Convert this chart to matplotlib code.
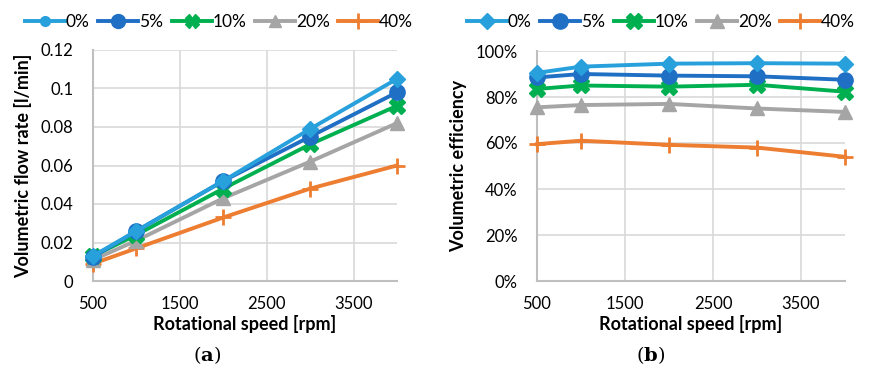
import numpy as np
import matplotlib.pyplot as plt
from matplotlib.lines import Line2D
from matplotlib.ticker import FuncFormatter

plt.rcParams['font.family'] = ['Lato', 'DejaVu Sans']
plt.rcParams['mathtext.fontset'] = 'dejavuserif'

speed = [500, 1000, 2000, 3000, 4000]
series = ['0%', '5%', '10%', '20%', '40%']

# flow rate [l/min]
flow_0 = [0.013, 0.026, 0.052, 0.079, 0.105]
flow_5 = [0.0125, 0.026, 0.052, 0.075, 0.098]
flow_10 = [0.013, 0.024, 0.048, 0.071, 0.091]
flow_20 = [0.011, 0.021, 0.043, 0.062, 0.082]
flow_40 = [0.009, 0.017, 0.033, 0.048, 0.060]

# volumetric efficiency [%]
eff_0 = [90.5, 93.2, 94.5, 94.7, 94.5]
eff_5 = [88.5, 90.0, 89.3, 89.0, 87.5]
eff_10 = [83.5, 85.0, 84.5, 85.3, 82.3]
eff_20 = [75.5, 76.5, 77.0, 75.0, 73.5]
eff_40 = [59.5, 61.0, 59.2, 58.0, 54.0]

colors = ['#27a0dc', '#1f6fc5', '#00b050', '#a5a5a5', '#ed7d31']
markers = ['D', 'o', 'X', '^', '+']
msizes = [8, 11, 11, 10, 12]

fig = plt.figure(figsize=(8.74, 3.72), dpi=100)
ax1 = fig.add_axes([93/874, 1-281/372, 304/874, 231/372])
ax2 = fig.add_axes([537/874, 1-281/372, 308/874, 230/372])

flows = [flow_0, flow_5, flow_10, flow_20, flow_40]
effs = [eff_0, eff_5, eff_10, eff_20, eff_40]

for i in range(5):
    mew = 2 if markers[i] == '+' else 1
    ax1.plot(speed, flows[i], color=colors[i], lw=2.8, marker=markers[i],
             ms=msizes[i], mew=mew, label=series[i], zorder=3 + (4 - i), clip_on=False)
    ax2.plot(speed, effs[i], color=colors[i], lw=2.8, marker=markers[i],
             ms=msizes[i], mew=mew, label=series[i], zorder=3 + (4 - i), clip_on=False)

for ax in (ax1, ax2):
    ax.set_xlim(500, 4000)
    ax.set_xticks([500, 1500, 2500, 3500])
    ax.grid(True, color='#d9d9d9', lw=1.2)
    ax.set_axisbelow(True)
    for s in ('top', 'right'):
        ax.spines[s].set_visible(False)
    for s in ('left', 'bottom'):
        ax.spines[s].set_color('#bfbfbf')
        ax.spines[s].set_linewidth(1.5)
    ax.tick_params(axis='x', length=0, labelsize=12, colors='black', pad=11)
    ax.tick_params(axis='y', length=0, labelsize=12, colors='black', pad=14)
    ax.set_xlabel('Rotational speed [rpm]', fontsize=13, fontweight='bold', labelpad=2)

ax1.set_ylim(0, 0.12)
ax1.set_yticks([0, 0.02, 0.04, 0.06, 0.08, 0.1, 0.12])
ax1.yaxis.set_major_formatter(FuncFormatter(lambda v, p: '0' if v == 0 else ('%g' % round(v, 2))))
ax1.set_ylabel('Volumetric flow rate [l/min]', fontsize=13, fontweight='bold', labelpad=6)

ax2.set_ylim(0, 100)
ax2.set_yticks([0, 20, 40, 60, 80, 100])
ax2.yaxis.set_major_formatter(FuncFormatter(lambda v, p: '%d%%' % v))
ax2.set_ylabel('Volumetric efficiency', fontsize=13, fontweight='bold', labelpad=6)

# legends above each panel
proxy = []
for i in range(5):
    m = 'o' if i == 0 else markers[i]
    proxy.append(Line2D([], [], color=colors[i], lw=2.8, marker=m, ms=msizes[i] - 1,
                        mew=2 if m == '+' else 1))
leg_kw = dict(ncol=5, frameon=False, fontsize=12.5, handlelength=2.3,
              handletextpad=0.05, columnspacing=0.5, borderaxespad=0)
fig.legend(proxy, series, loc='center', bbox_to_anchor=(219/874, 1-22/372), **leg_kw)
fig.legend(ax2.get_legend_handles_labels()[0], series, loc='center',
           bbox_to_anchor=(661/874, 1-22/372), **leg_kw)

fig.text(207/874, 1-355/372, r'($\mathbf{a}$)', fontsize=14, family='DejaVu Serif', ha='center', va='center')
fig.text(651/874, 1-355/372, r'($\mathbf{b}$)', fontsize=14, family='DejaVu Serif', ha='center', va='center')

fig.savefig('out.png', dpi=100)
